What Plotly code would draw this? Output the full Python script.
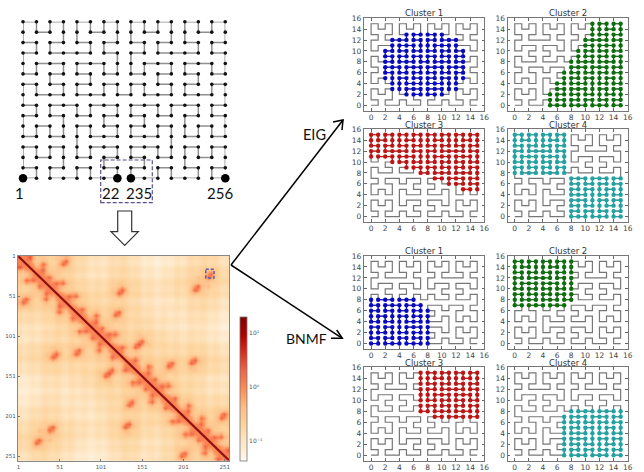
import plotly.graph_objects as go

W, H = 644, 472

# ---------- Data ----------
# Curve as unit moves between the 256 grid nodes
curve_moves = (
    "RULUURDRURDDLDR" "R" "URDRRULURULLDLU" "U" "URDRRULURULLDLU" "L" "LDRDDLULDLUURUL"
    "U"
    "URDRRULURULLDLU" "U" "RULUURDRURDDLDR" "R" "RULUURDRURDDLDR" "D" "DLULLDRDLDRRURD"
    "R"
    "URDRRULURULLDLU" "U" "RULUURDRURDDLDR" "R" "RULUURDRURDDLDR" "D" "DLULLDRDLDRRURD"
    "D"
    "LDRDDLULDLUURUL" "L" "DLULLDRDLDRRURD" "D" "DLULLDRDLDRRURD" "R" "RULUURDRURDDLDR"
)
labelled_nodes = [0, 21, 234, 255]
labelled_text = ["1", "22", "235", "256"]

# Cluster membership as rows: (y, first x, last x)
eig1_rows = [(13,5,10),(12,3,12),(11,3,12),(10,2,13),(9,2,13),(8,2,13),(7,2,13),(6,2,13),(5,2,13),(4,3,12),(3,3,12),(2,5,10)]
eig2_rows = [(15,11,15),(14,11,15),(13,11,15),(12,10,15),(11,10,15),(10,9,15),(9,9,15),(8,8,15),(7,8,15),(6,7,15),(5,7,15),(4,6,15),(3,6,15),(2,5,15),(1,5,15),(0,5,15)]
eig3_rows = [(15,0,15),(14,0,15),(13,0,15),(12,0,15),(11,0,15),(10,3,15),(9,5,15),(8,7,15),(7,9,15),(6,11,15),(5,13,15)]
eig4_rows = [(15,0,7),(14,0,7),(13,0,7),(12,0,7),(11,0,7),(10,0,7),(9,0,7),(8,0,7),(7,8,15),(6,8,15),(5,8,15),(4,8,15),(3,8,15),(2,8,15),(1,8,15),(0,8,15)]
bnmf1_rows = [(8,0,6),(7,0,7),(6,0,8),(5,0,8),(4,0,8),(3,0,8),(2,0,8),(1,0,8),(0,0,8)]
bnmf2_rows = [(15,0,8),(14,0,8),(13,0,8),(12,0,8),(11,0,8),(10,0,8),(9,0,8),(8,0,8),(7,0,7)]
bnmf3_rows = [(15,7,15),(14,7,15),(13,7,15),(12,7,15),(11,7,15),(10,7,15),(9,7,15),(8,7,15),(7,9,15)]
bnmf4_rows = [(8,8,15),(7,7,15),(6,7,15),(5,7,15),(4,7,15),(3,7,15),(2,7,15),(1,7,15),(0,7,15)]
cluster_titles = ["Cluster 1", "Cluster 2", "Cluster 3", "Cluster 4"]
cluster_ticks = [0, 2, 4, 6, 8, 10, 12, 14, 16]

# Heat map: broad level per 16-index block, upper triangle (tenths of a level)
heat_blocks = [
    [30,24,21,24,18,12,11,16,13,8,4,8,11,16,18,12],
    [30,24,21,16,11,12,18,16,11,8,13,16,21,24,18],
    [30,24,21,16,18,24,21,16,13,16,18,24,21,16],
    [30,24,18,16,21,16,13,8,11,12,18,16,11],
    [30,24,21,24,18,16,11,12,11,16,13,8],
    [30,24,21,16,18,12,11,8,13,8,4],
    [30,24,21,24,18,16,13,16,11,8],
    [30,24,21,16,18,16,21,16,13],
    [30,24,21,24,21,24,18,16],
    [30,24,21,16,18,12,11],
    [30,24,18,16,11,12],
    [30,24,21,16,18],
    [30,24,21,24],
    [30,24,21],
    [30,24],
    [30],
]
# Strong, weak and faint spots, as pairs of 4-index bins
heat_strong = """21-22 22-25 25-26 26-37 37-38 38-41 41-42 20-23 23-24 24-27 27-36 36-39 39-40 40-43
18-19 18-29 28-29 28-35 34-35 34-45 44-45 16-17 17-30 30-31 31-32 32-33 33-46 46-47
12-15 11-12 10-11 10-53 52-53 51-52 48-51 13-14 8-13 8-9 9-54 54-55 50-55 49-50
1-2 2-7 6-7 6-57 56-57 56-61 61-62 0-3 3-4 4-5 5-58 58-59 59-60 60-63
20-21 19-20 16-19 15-16 14-15 1-14 0-1 22-23 18-23 17-18 12-17 12-13 2-13 2-3
24-25 24-29 29-30 11-30 8-11 7-8 4-7 26-27 27-28 28-31 10-31 9-10 6-9 5-6
36-37 35-36 32-35 32-53 53-54 54-57 57-58 38-39 34-39 33-34 33-52 52-55 55-56 56-59
40-41 40-45 45-46 46-51 50-51 50-61 60-61 42-43 43-44 44-47 47-48 48-49 49-62 62-63"""
heat_weak = """0-2 3-7 4-6 5-57 56-58 59-61 60-62 1-3 2-4 5-7 6-58 57-59 56-60 61-63
1-13 2-8 7-9 6-54 55-57 50-56 49-61 2-14 7-13 6-8 9-57 54-56 55-61 50-62
12-14 11-13 8-10 9-53 52-54 51-55 48-50 13-15 8-12 9-11 10-54 53-55 50-52 49-51
15-17 12-30 11-31 10-32 33-53 46-52 47-51 12-16 11-17 10-30 31-53 32-52 33-51 46-48
16-18 17-29 28-30 31-35 32-34 33-45 44-46 17-19 18-30 29-31 28-32 33-35 34-46 45-47
19-23 18-24 27-29 28-36 35-39 34-40 43-45 18-20 23-29 24-28 27-35 34-36 39-45 40-44
20-22 23-25 24-26 27-37 36-38 39-41 40-42 21-23 22-24 25-27 26-36 37-39 38-40 41-43"""
heat_faint = """21-25 22-26 25-37 26-38 37-41 38-42 20-24 23-27 24-36 27-39 36-40 39-43
19-29 18-28 29-35 28-34 35-45 34-44 16-30 17-31 30-32 31-33 32-46 33-47
11-15 10-12 11-53 10-52 51-53 48-52 8-14 9-13 8-54 9-55 50-54 49-55
1-7 2-6 7-57 6-56 57-61 56-62 0-4 3-5 4-58 5-59 58-60 59-63
19-21 16-20 15-19 14-16 1-15 0-14 18-22 17-23 12-18 13-17 2-12 3-13
25-29 24-30 11-29 8-30 7-11 4-8 26-28 27-31 10-28 9-31 6-10 5-9
35-37 32-36 35-53 32-54 53-57 54-58 34-38 33-39 34-52 33-55 52-56 55-59
41-45 40-46 45-51 46-50 51-61 50-60 42-44 43-47 44-48 47-49 48-62 49-63"""
# Faint lighter/darker stripes across the map, per 4-index bin
heat_stripes = [
    .20,-.15,-.15,.20, .25,-.20,-.10,.20, .15,-.15,-.20,.25, .20,-.10,-.15,.20,
    .25,-.15,-.20,.20, .20,-.10,-.20,.25, .15,-.20,-.15,.20, .20,-.15,-.10,.25,
    .25,-.10,-.15,.20, .20,-.15,-.20,.15, .25,-.20,-.10,.20, .20,-.20,-.15,.25,
    .20,-.15,-.10,.20, .25,-.15,-.20,.15, .20,-.10,-.20,.25, .20,-.15,-.15,.20,
]
heat_ticks = [1, 51, 101, 151, 201, 251]
diag_ends = [1, 256]
bar_ticks = [-1, 0, 1]
bar_text = ["10⁻¹", "10⁰", "10¹"]
Z_MIN, Z_MAX = -1.37, 1.3
LEVEL_STRONG, LEVEL_NEXT, LEVEL_WEAK, LEVEL_FAINT, LEVEL_DIAG, LEVEL_LIFT = 7.5, 4.6, 4.6, 3.4, 5.2, 0.25

# ---------- Decode ----------
step = {"R": (1, 0), "L": (-1, 0), "U": (0, 1), "D": (0, -1)}
cx, cy = [0], [0]
for m in curve_moves:
    cx.append(cx[-1] + step[m][0])
    cy.append(cy[-1] + step[m][1])

def soften(m, centre, edge, corner):
    # the reference is a resampled, blurred picture: spread each cell a little
    out = [[0.0] * 64 for _ in range(64)]
    for i in range(64):
        for j in range(64):
            total = weight = 0.0
            for di in (-1, 0, 1):
                for dj in (-1, 0, 1):
                    a, b = i + di, j + dj
                    if 0 <= a < 64 and 0 <= b < 64:
                        w = centre if di == dj == 0 else (corner if di and dj else edge)
                        total += w * m[a][b]
                        weight += w
            out[i][j] = total / weight
    return out

level = [[0.0] * 64 for _ in range(64)]
for i in range(64):
    for j in range(i, 64):
        level[i][j] = level[j][i] = heat_blocks[i // 4][j // 4 - i // 4] / 10
for _ in range(3):
    level = soften(level, 0.25, 0.125, 0.0625)
for i in range(64):
    for j in range(64):
        level[i][j] += LEVEL_LIFT + heat_stripes[i] + heat_stripes[j]
for text, lv in ((heat_strong, LEVEL_STRONG), (heat_weak, LEVEL_WEAK), (heat_faint, LEVEL_FAINT)):
    for pair in text.split():
        a, b = map(int, pair.split("-"))
        value = LEVEL_NEXT if abs(a - b) == 1 else lv
        level[a][b] = level[b][a] = max(level[a][b], value)
for i in range(64):
    level[i][i] = LEVEL_DIAG
level = soften(level, 0.45, 0.09, 0.0475)
heat_z = [[Z_MIN + (Z_MAX - Z_MIN) * v / 9 for v in row] for row in level]
heat_centres = [2.5 + 4 * i for i in range(64)]

# ---------- Figure ----------
fig = go.Figure()
def px(x): return x / W
def py(y): return 1 - y / H

LINE = "#777777"
TICK = "#444444"
layout = dict(
    width=W, height=H, margin=dict(l=0, r=0, t=0, b=0, pad=0, autoexpand=False),
    paper_bgcolor="white", plot_bgcolor="white", showlegend=False,
    font=dict(family="DejaVu Sans", color=TICK),
)
shapes, annos = [], []

# Left curve
layout["xaxis"] = dict(domain=[px(23), px(225.3)], range=[0, 15], visible=False, fixedrange=True)
layout["yaxis"] = dict(domain=[py(178.3), py(21.7)], range=[0, 15], visible=False, fixedrange=True)
fig.add_trace(go.Scatter(x=cx, y=cy, mode="lines+markers", xaxis="x", yaxis="y", cliponaxis=False,
                         line=dict(color="#909090", width=1.5),
                         marker=dict(color="#111", size=3.6), hoverinfo="skip"))
fig.add_trace(go.Scatter(x=[cx[i] for i in labelled_nodes], y=[cy[i] for i in labelled_nodes],
                         mode="markers", xaxis="x", yaxis="y", cliponaxis=False,
                         marker=dict(color="black", size=8.5), hoverinfo="skip"))
for t, xp in zip(labelled_text, (19, 110, 139, 220)):
    annos.append(dict(text=t, x=px(xp), y=py(193), xref="paper", yref="paper", showarrow=False,
                      xanchor="center", yanchor="middle", font=dict(family="Lato", size=15, color="#111")))

# Heat map
OrRd = [[0, "#fff7ec"], [0.125, "#fee8c8"], [0.25, "#fdd49e"], [0.375, "#fdbb84"], [0.5, "#fc8d59"],
        [0.625, "#ef6548"], [0.75, "#d7301f"], [0.875, "#b30000"], [1, "#7f0000"]]
layout["xaxis2"] = dict(domain=[px(18), px(229.3)], range=[0.5, 256.5], anchor="y2", tickvals=heat_ticks,
                        ticks="inside", ticklen=2, tickcolor="#777", tickwidth=0.6, showline=True, mirror=True,
                        linecolor="#888", linewidth=1.4, showgrid=False, zeroline=False, fixedrange=True,
                        tickfont=dict(size=5.5, color="#555"))
layout["yaxis2"] = dict(domain=[py(460.7), py(256)], range=[256.5, 0.5], anchor="x2", tickvals=heat_ticks,
                        ticks="inside", ticklen=2, tickcolor="#777", tickwidth=0.6, showline=True, mirror=True,
                        linecolor="#888", linewidth=1.4, showgrid=False, zeroline=False, fixedrange=True,
                        tickfont=dict(size=5.5, color="#555"))
fig.add_trace(go.Heatmap(x=heat_centres, y=heat_centres, z=heat_z, xaxis="x2", yaxis="y2", zsmooth="best",
                         colorscale=OrRd, zmin=Z_MIN, zmax=Z_MAX, hoverinfo="skip",
                         colorbar=dict(x=px(240), xanchor="left", xref="paper", y=py(389), yanchor="middle",
                                       yref="paper", thickness=7, thicknessmode="pixels", len=144, lenmode="pixels",
                                       xpad=0, ypad=0, outlinecolor="#777", outlinewidth=0.8, tickvals=bar_ticks,
                                       ticktext=bar_text, ticks="", ticklabelposition="outside",
                                       tickfont=dict(size=6, color="#555"))))
fig.add_trace(go.Scatter(x=diag_ends, y=diag_ends, mode="lines", xaxis="x2", yaxis="y2",
                         line=dict(color="#8f1010", width=2.2), hoverinfo="skip"))
shapes.append(dict(type="rect", xref="x2", yref="y2", x0=228, x1=238, y0=17, y1=28,
                   line=dict(color="#5560a8", width=1.5, dash="3px,2px")))

# Cluster panels
colors = ["#0a0ac0", "#0c6e0c", "#c01414", "#22a3a3"]
panel_rows = [eig1_rows, eig2_rows, eig3_rows, eig4_rows, bnmf1_rows, bnmf2_rows, bnmf3_rows, bnmf4_rows]
col_x = [(364, 484.3), (507.7, 627.7)]
row_y = [(18.3, 110.7), (129.3, 222), (256, 349), (367.3, 460.7)]
ax = 3
for k, rows in enumerate(panel_rows):
    c = k % 2
    r = k // 2
    xa, ya = f"x{ax}", f"y{ax}"
    common = dict(range=[-1, 16], tickvals=cluster_ticks, ticks="inside", ticklen=2.5, tickcolor="#666",
                  tickwidth=0.7, showline=True, mirror="ticks", linecolor="#777", linewidth=1.2, showgrid=False,
                  zeroline=False, fixedrange=True, tickfont=dict(size=7.5, color=TICK))
    layout[f"xaxis{ax}"] = dict(domain=[px(col_x[c][0]), px(col_x[c][1])], anchor=ya, ticklabelstandoff=-1, **common)
    layout[f"yaxis{ax}"] = dict(domain=[py(row_y[r][1]), py(row_y[r][0])], anchor=xa, **common)
    fig.add_trace(go.Scatter(x=cx, y=cy, mode="lines", xaxis=xa, yaxis=ya,
                             line=dict(color=LINE, width=1.2), hoverinfo="skip"))
    members = {(x, y) for y, a, b in rows for x in range(a, b + 1)}
    mx = [x if (x, y) in members else None for x, y in zip(cx, cy)]
    my = [y if (x, y) in members else None for x, y in zip(cx, cy)]
    fig.add_trace(go.Scatter(x=mx, y=my, mode="lines+markers", xaxis=xa, yaxis=ya,
                             line=dict(color=colors[k % 4], width=1),
                             marker=dict(color=colors[k % 4], size=4.4), hoverinfo="skip"))
    annos.append(dict(text=cluster_titles[k % 4], x=px(sum(col_x[c]) / 2), y=py(row_y[r][0] - 4.8),
                      xref="paper", yref="paper", showarrow=False, xanchor="center", yanchor="middle",
                      font=dict(size=8.5, color="#333")))
    ax += 1

# Decorations drawn in page space
def path(points, close=False):
    s = "M " + " L ".join(f"{px(x):.5f},{py(y):.5f}" for x, y in points)
    return s + (" Z" if close else "")

shapes.append(dict(type="rect", xref="paper", yref="paper", x0=px(100.7), x1=px(152.3), y0=py(202.7), y1=py(160),
                   line=dict(color="#5f4f8a", width=1.2, dash="4px,2px")))
shapes.append(dict(type="path", xref="paper", yref="paper", line=dict(color="#333", width=1.2),
                   path=path([(117.7, 211), (131.7, 211), (131.7, 231.7), (138.3, 231.7), (124.7, 245.5),
                              (111, 231.7), (117.7, 231.7)], True)))
for pts in ([(231, 265), (343, 120)], [(333, 122), (343, 120), (342, 130)],
            [(231, 265), (342.3, 338.3)], [(336.7, 330), (342.3, 338.3), (331, 338.3)]):
    shapes.append(dict(type="path", xref="paper", yref="paper", line=dict(color="black", width=1.5), path=path(pts)))
annos.append(dict(text="EIG", x=px(314), y=py(134), xref="paper", yref="paper", showarrow=False,
                  xanchor="center", yanchor="middle", font=dict(family="Lato", size=14.5, color="#111")))
annos.append(dict(text="BNMF", x=px(306), y=py(338), xref="paper", yref="paper", showarrow=False,
                  xanchor="center", yanchor="middle", font=dict(family="Lato", size=14, color="#111")))

layout["shapes"] = shapes
layout["annotations"] = annos
fig.update_layout(**layout)
fig.write_html("out.html", config=dict(displayModeBar=False),
               post_script="document.body.style.margin='0';document.documentElement.style.overflow='hidden';")
